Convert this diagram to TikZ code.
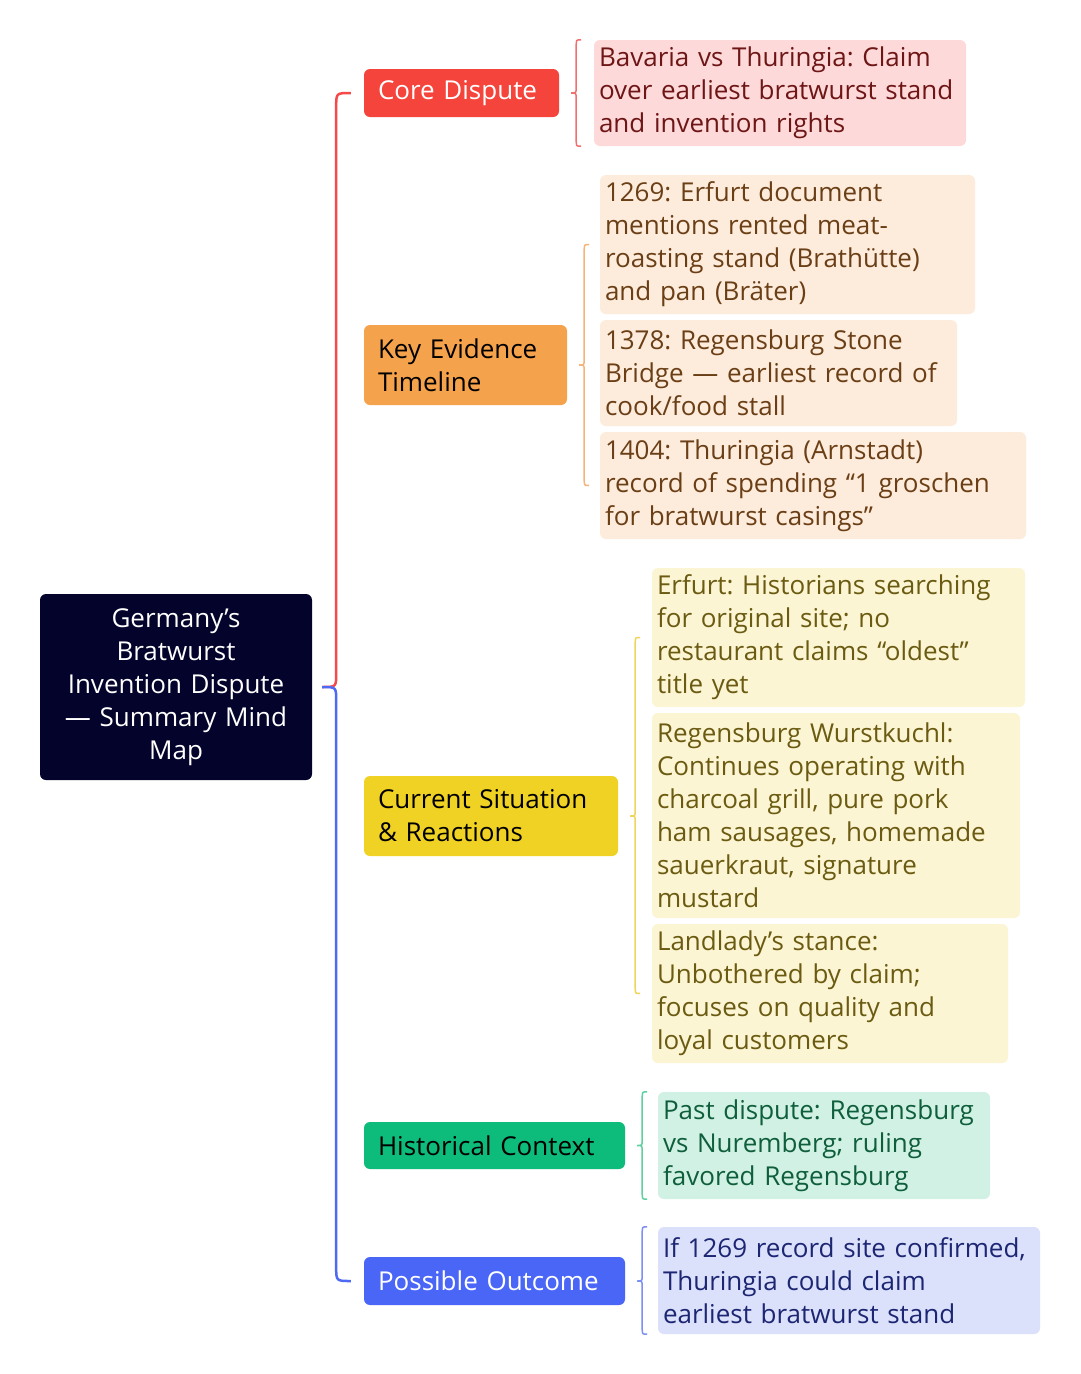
\documentclass[tikz,border=0pt]{standalone}
\usepackage{fontspec}
\setmainfont{Open Sans}
\usetikzlibrary{calc}

\definecolor{rootbg}{HTML}{03032B}
\definecolor{corered}{HTML}{F5443B}
\definecolor{corefill}{HTML}{FDD9D9}
\definecolor{coretext}{HTML}{6E1515}
\definecolor{corebrace}{HTML}{F07070}
\definecolor{keyorange}{HTML}{F5A24C}
\definecolor{keyfill}{HTML}{FDEBDC}
\definecolor{keytext}{HTML}{6B3F16}
\definecolor{keybrace}{HTML}{F5B57A}
\definecolor{curyellow}{HTML}{F0D224}
\definecolor{curfill}{HTML}{FCF5D3}
\definecolor{curtext}{HTML}{6B5B12}
\definecolor{curbrace}{HTML}{F0D55A}
\definecolor{histgreen}{HTML}{0DBB7B}
\definecolor{histfill}{HTML}{D0F1E3}
\definecolor{histtext}{HTML}{0F5E3C}
\definecolor{histbrace}{HTML}{5FD0A0}
\definecolor{possblue}{HTML}{4A66F7}
\definecolor{possfill}{HTML}{DBE0FB}
\definecolor{posstext}{HTML}{1C2672}
\definecolor{possbrace}{HTML}{7B8FF5}
\definecolor{linered}{HTML}{F64A4A}
\definecolor{lineblue}{HTML}{4E6AF5}

% brace from a topic to its leaves: colour, topic, top point, bottom point
\newcommand{\leafbrace}[4]{%
  \draw[#1, line width=1.5pt] let \p1=(#2.east), \p2=(#3), \p3=(#4) in
    (\x1+22pt,\y2) .. controls (\x1+17pt,\y2) .. (\x1+17pt,\y2-6pt)
    -- (\x1+17pt,\y1+6pt) .. controls (\x1+17pt,\y1) .. (\x1+12pt,\y1)
    .. controls (\x1+17pt,\y1) .. (\x1+17pt,\y1-6pt)
    -- (\x1+17pt,\y3+6pt) .. controls (\x1+17pt,\y3) .. (\x1+22pt,\y3);}

\frenchspacing
\begin{document}
\begin{tikzpicture}[x=1pt,y=-1pt,
    txt/.style={font=\fontsize{26}{33}\selectfont},
    topic/.style={txt, rounded corners=6pt, align=left, inner xsep=14pt, inner ysep=0pt},
    leaf/.style={txt, rounded corners=6pt, align=left, inner xsep=5pt, inner ysep=0pt}]
    \useasboundingbox[fill=white] (0,0) rectangle (1080,1374);

    % root
    \node[txt, fill=rootbg, text=white, rounded corners=6pt, align=center,
          text width=260pt, minimum height=186pt, inner xsep=6pt, inner ysep=0pt] (root) at (176,687)
          {Germany’s\\Bratwurst\\Invention Dispute\\— Summary Mind\\Map};

    % topics
    \node[topic, fill=corered, text=white, text width=167pt, minimum height=48pt] (core) at (461.5,93) {Core Dispute};
    \node[topic, fill=keyorange, text=black, text width=175pt, minimum height=80pt] (key) at (465.5,365) {Key Evidence\\Timeline};
    \node[topic, fill=curyellow, text=black, text width=226pt, minimum height=80pt] (cur) at (491,816) {Current Situation\\\& Reactions};
    \node[topic, fill=histgreen, text=black, text width=233pt, minimum height=47pt] (hist) at (494.5,1145.5) {Historical Context};
    \node[topic, fill=possblue, text=white, text width=233pt, minimum height=48pt] (poss) at (494.5,1281) {Possible Outcome};

    % leaves
    \node[leaf, fill=corefill, text=coretext, text width=362pt, minimum height=106pt] (coreleaf) at (780,93)
          {Bavaria vs Thuringia: Claim\\over earliest bratwurst stand\\and invention rights};

    \node[leaf, fill=keyfill, text=keytext, text width=365pt, minimum height=139pt] (key1) at (787.5,244.5)
          {1269: Erfurt document\\mentions rented meat-\\roasting stand (Brathütte)\\and pan (Bräter)};
    \node[leaf, fill=keyfill, text=keytext, text width=347pt, minimum height=106pt] (key2) at (778.5,373)
          {1378: Regensburg Stone\\Bridge — earliest record of\\cook/food stall};
    \node[leaf, fill=keyfill, text=keytext, text width=416pt, minimum height=107pt] (key3) at (813,485.5)
          {1404: Thuringia (Arnstadt)\\record of spending “1 groschen\\for bratwurst casings”};

    \node[leaf, fill=curfill, text=curtext, text width=363pt, minimum height=139pt] (cur1) at (838.5,637.5)
          {Erfurt: Historians searching\\for original site; no\\restaurant claims “oldest”\\title yet};
    \node[leaf, fill=curfill, text=curtext, text width=358pt, minimum height=205pt] (cur2) at (836,815.5)
          {Regensburg Wurstkuchl:\\Continues operating with\\charcoal grill, pure pork\\ham sausages, homemade\\sauerkraut, signature\\mustard};
    \node[leaf, fill=curfill, text=curtext, text width=346pt, minimum height=139pt] (cur3) at (830,993.5)
          {Landlady’s stance:\\Unbothered by claim;\\focuses on quality and\\loyal customers};

    \node[leaf, fill=histfill, text=histtext, text width=322pt, minimum height=107pt] (histleaf) at (824,1145.5)
          {Past dispute: Regensburg\\vs Nuremberg; ruling\\favored Regensburg};
    \node[leaf, fill=possfill, text=posstext, text width=372pt, minimum height=107pt] (possleaf) at (849,1280.5)
          {If 1269 record site confirmed,\\Thuringia could claim\\earliest bratwurst stand};

    % main brace
    \draw[linered, line width=2.5pt] let \p1=(root.east), \p2=(core.west) in
        (\x1+10pt,\y1) .. controls (\x1+24pt,\y1) .. (\x1+24pt,\y1+14pt)
        -- (\x1+24pt,\y2-14pt) .. controls (\x1+24pt,\y2) .. (\x2-13pt,\y2);
    \draw[lineblue, line width=2.5pt] let \p1=(root.east), \p2=(poss.west) in
        (\x1+10pt,\y1) .. controls (\x1+24pt,\y1) .. (\x1+24pt,\y1-14pt)
        -- (\x1+24pt,\y2+14pt) .. controls (\x1+24pt,\y2) .. (\x2-13pt,\y2);

    % leaf braces
    \leafbrace{corebrace}{core}{coreleaf.north}{coreleaf.south}
    \leafbrace{keybrace}{key}{key1.center}{key3.center}
    \leafbrace{curbrace}{cur}{cur1.center}{cur3.center}
    \leafbrace{histbrace}{hist}{histleaf.north}{histleaf.south}
    \leafbrace{possbrace}{poss}{possleaf.north}{possleaf.south}
\end{tikzpicture}
\end{document}
